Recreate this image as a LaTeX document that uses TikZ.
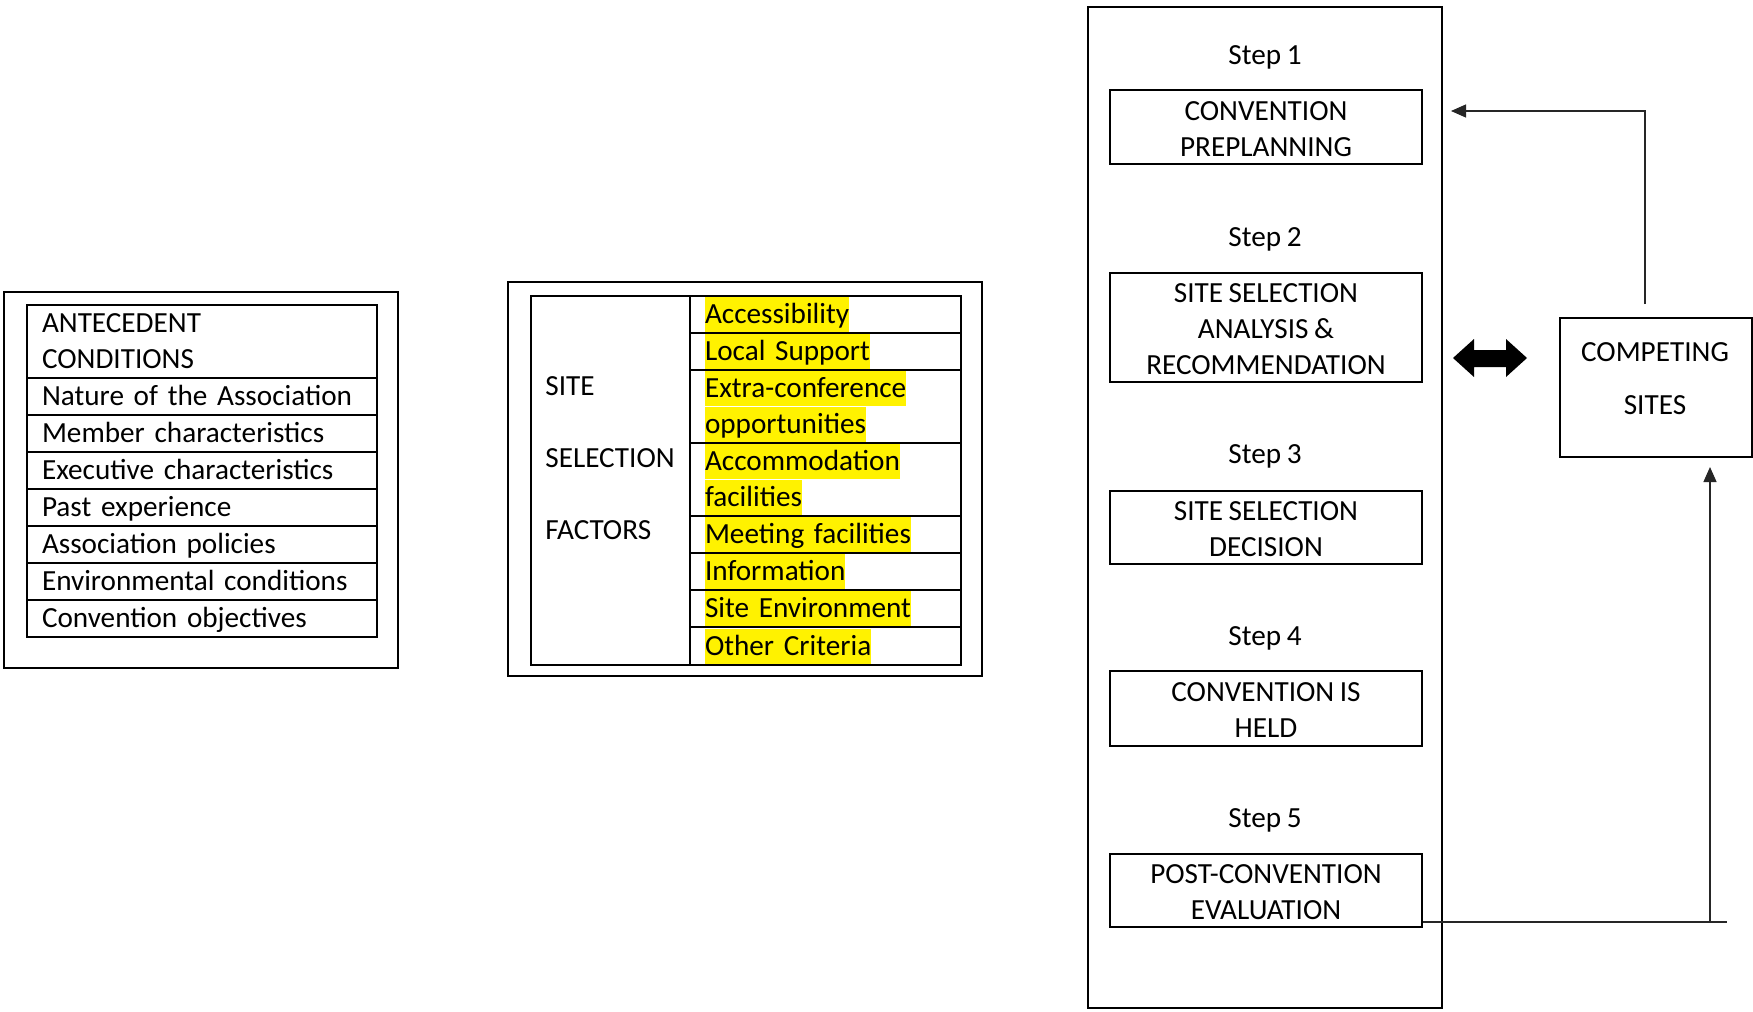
\documentclass[tikz,border=0pt]{standalone}
\usepackage{fontspec}
\setmainfont{Carlito}[WordSpace=0.85]
\usetikzlibrary{arrows.meta}
% strut giving every text line the same height and depth
\newcommand\hs{\rule[-4.2pt]{0pt}{17.5pt}}
% shallower closing strut used inside the step boxes
\newcommand\hsend{\rule[-2.1pt]{0pt}{1pt}}
% highlighted text line
\setlength{\fboxsep}{0pt}
\newcommand\hl[1]{\colorbox{yellow}{\hs#1}}
\begin{document}
\begin{tikzpicture}[x=0.5pt,y=-0.5pt,
  font=\fontsize{14.6pt}{18pt}\selectfont,
  frame/.style={line width=1.2pt},
  lcell/.style={draw, line width=1pt, anchor=north west, inner xsep=7.5pt, inner ysep=0pt,
    text width=160pt, align=left, minimum height=18.5pt,
    execute at begin node=\hs, execute at end node=\hs},
  fcell/.style={draw, line width=1pt, anchor=north west, inner xsep=7.5pt, inner ysep=0pt,
    text width=120.5pt, align=left, minimum height=18.5pt},
  stepbox/.style={draw, line width=1pt, anchor=north west, minimum width=156pt, inner sep=0pt,
    align=center},
  steplabel/.style={anchor=base, inner sep=0pt},
  conn/.style={line width=0.6pt, black!85},
  tip/.style={-{Triangle[length=7.5pt,width=6.5pt]}}]

\fill[white] (0,0) rectangle (1753,1012);
\useasboundingbox (0,0) rectangle (1753,1012);

% ---- antecedent conditions ----
\draw[frame] (4,292) rectangle (398,668);
\node[lcell, minimum height=36.5pt] (a0) at (26,304) {ANTECEDENT\\CONDITIONS};
\node[lcell] (a1) at (26,377) {Nature of the Association};
\node[lcell] (a2) at (26,414) {Member characteristics};
\node[lcell] (a3) at (26,451) {Executive characteristics};
\node[lcell] (a4) at (26,488) {Past experience};
\node[lcell] (a5) at (26,525) {Association policies};
\node[lcell] (a6) at (26,562) {Environmental conditions};
\node[lcell] (a7) at (26,599) {Convention objectives};

% ---- site selection factors ----
\draw[frame] (508,282) rectangle (982,676);
\node[draw, line width=1pt, anchor=north west, minimum width=79.5pt, minimum height=184.5pt,
  inner sep=0pt] (sitecell) at (530,295) {};
\node[anchor=north west, align=left, inner sep=0pt] (sitetxt) at (545,368)
  {\hs SITE\\[18pt]SELECTION\\[18pt]FACTORS\hs};
\node[fcell] (f1) at (689,295) {\hl{Accessibility}};
\node[fcell] (f2) at (689,332) {\hl{Local Support}};
\node[fcell, minimum height=36.5pt] (f3) at (689,369) {\hl{Extra-conference}\\\hl{opportunities}};
\node[fcell, minimum height=36.5pt] (f4) at (689,442) {\hl{Accommodation}\\\hl{facilities}};
\node[fcell] (f5) at (689,515) {\hl{Meeting facilities}};
\node[fcell] (f6) at (689,552) {\hl{Information}};
\node[fcell] (f7) at (689,589) {\hl{Site Environment}};
\node[fcell, minimum height=19pt] (f8) at (689,626) {\hl{Other Criteria}};

% ---- convention process steps ----
\draw[frame] (1088,7) rectangle (1442,1008);
\node[steplabel] (s1) at (1265,64) {Step 1};
\node[stepbox, minimum height=37pt] (b1) at (1109,89) {\hs CONVENTION\\PREPLANNING\hsend};
\node[steplabel] (s2) at (1265,246) {Step 2};
\node[stepbox, minimum height=54.5pt] (b2) at (1109,272) {\hs SITE SELECTION\\ANALYSIS \&\\RECOMMENDATION\hsend};
\node[steplabel] (s3) at (1265,463) {Step 3};
\node[stepbox, minimum height=36.5pt] (b3) at (1109,490) {\hs SITE SELECTION\\DECISION\hsend};
\node[steplabel] (s4) at (1265,645) {Step 4};
\node[stepbox, minimum height=37.5pt] (b4) at (1109,670) {\hs CONVENTION IS\\HELD\hsend};
\node[steplabel] (s5) at (1265,827) {Step 5};
\node[stepbox, minimum height=36.5pt] (b5) at (1109,853) {\hs POST-CONVENTION\\EVALUATION\hsend};

% ---- competing sites ----
\node[draw, line width=1pt, anchor=north west, minimum width=96pt, minimum height=69.5pt,
  inner sep=0pt] (comp) at (1559,317) {};
\node[anchor=north, align=center, inner sep=0pt] (comptxt) at (1655,334)
  {\hs COMPETING\\[8.5pt]SITES\hs};

% two-way block arrow between the steps and the competing sites
\fill (1453,358) -- (1474,339) -- (1474,350) -- (1506,350) -- (1506,339) -- (1527,358)
  -- (1506,377) -- (1506,367) -- (1474,367) -- (1474,377) -- cycle;

% feedback connectors
\coordinate (upstart) at (1645,304);
\coordinate (uptip) at (1451,111);
\draw[conn, tip] (upstart) |- (uptip);
\coordinate (fbend) at (1727,922);
\coordinate (fbturn) at (1710,922);
\coordinate (fbtip) at (1710,467);
\draw[conn] (b5.east |- fbend) -- (fbend);
\draw[conn, tip] (fbturn) -- (fbtip);
\end{tikzpicture}
\end{document}
